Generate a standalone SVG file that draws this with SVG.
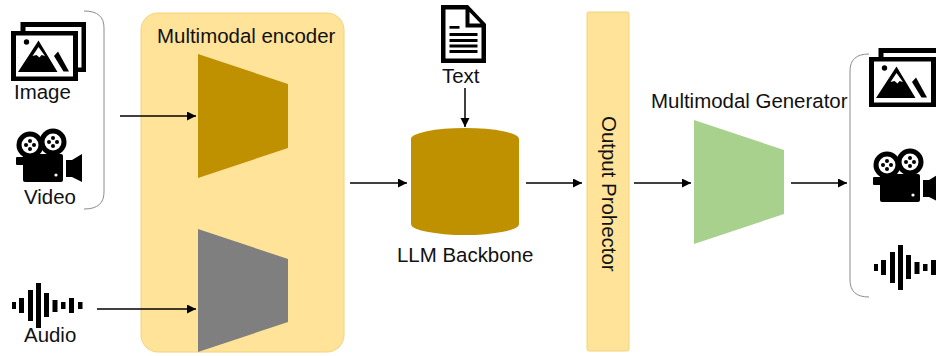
<svg xmlns="http://www.w3.org/2000/svg" xmlns:xlink="http://www.w3.org/1999/xlink" width="936" height="356" viewBox="0 0 936 356">
<style>
text{font-family:"Liberation Sans",Arial,sans-serif;font-size:20.45px;fill:#111}
.c{stroke:#000;stroke-width:1.5;fill:none;marker-end:url(#a)}
.b{stroke:#8c8c8c;stroke-width:1;fill:none}
</style>
<defs>
<marker id="a" markerUnits="userSpaceOnUse" markerWidth="10" markerHeight="10" refX="9" refY="4.500" orient="auto"><path d="M0 0L9 4.500L0 9Z" fill="#000"/></marker>
<g id="imgIcon">
<path fill-rule="evenodd" d="M20.500 22H86V72H77V67.500H81.500V27H25.500V31H20.500Z"/>
<path fill-rule="evenodd" d="M11 31H78V81H11ZM16 35.500V76.500H73V35.500Z"/>
<circle cx="26.500" cy="42" r="2.700"/>
<path fill-rule="evenodd" d="M18 72L38.500 40.500L57.500 72ZM38.500 47L32.500 56L36.500 55L39.500 57.500L41.500 55L45 56Z"/>
<path d="M54 56L58 51.500L69 71.500H63.500Z"/>
</g>
<g id="vidIcon">
<circle cx="30" cy="145" r="13.500"/><circle cx="53" cy="142" r="13.500"/>
<circle cx="30" cy="145" r="8.500" fill="#fff"/><circle cx="53" cy="142" r="8.500" fill="#fff"/>
<circle cx="30" cy="141" r="2"/><circle cx="30" cy="149" r="2"/><circle cx="26" cy="145" r="2"/><circle cx="34" cy="145" r="2"/><circle cx="53" cy="138" r="2"/><circle cx="53" cy="146" r="2"/><circle cx="49" cy="142" r="2"/><circle cx="57" cy="142" r="2"/>
<rect x="23" y="154" width="40" height="28" rx="2"/>
<rect x="16" y="157" width="8" height="8" rx="1"/>
<path d="M66 160H72L82 154V182L72 177H66Z"/>
<circle cx="56" cy="175" r="1.600" fill="#fff"/>
</g>
<g id="audIcon">
<rect x="12" y="302" width="4" height="7"/><rect x="19" y="298" width="5" height="15"/><rect x="28" y="290" width="5" height="31"/><rect x="36" y="283" width="5" height="45"/><rect x="44" y="293" width="5" height="24"/><rect x="52.500" y="300" width="5" height="12"/><rect x="61" y="302" width="4.500" height="7"/><rect x="69" y="298" width="5" height="15"/><rect x="78" y="302" width="4.500" height="7"/>
</g>
</defs>
<g id="encoder"><rect x="141" y="13" width="203" height="339" rx="17" fill="#ffe399" stroke="#f5d27a"/><text x="157" y="43">Multimodal encoder</text></g>
<g id="encoder-top"><path d="M198 54L288 84V148L198 178Z" fill="#bf9000"/></g>
<g id="encoder-bottom"><path d="M198 229L288 259V322L198 352Z" fill="#7f7f7f"/></g>
<g id="inputs">
<path class="b" d="M84 11C98 11 104 17 104 28V192C104 203 98 209 84 209"/>
<use xlink:href="#imgIcon"/><text x="14" y="99">Image</text>
<use xlink:href="#vidIcon"/><text x="24" y="204">Video</text>
<use xlink:href="#audIcon"/><text x="24" y="342">Audio</text>
</g>
<g id="text-doc">
<path fill-rule="evenodd" d="M441 5H468L486 24V63H441ZM445.500 9.500V58.500H481.500V27.500H465.500V9.500ZM469.500 12V23.500H480.500Z"/>
<rect x="449.500" y="26" width="10" height="2.700"/><rect x="449.500" y="33" width="28" height="3"/><rect x="449.500" y="39" width="28" height="3"/><rect x="449.500" y="44.500" width="28" height="3"/><rect x="449.500" y="50" width="28" height="3"/>
<text x="442" y="83">Text</text>
</g>
<g id="backbone">
<path d="M411 139V224A54 11 0 0 0 519 224V139Z" fill="#bf9000"/>
<ellipse cx="465" cy="139" rx="54" ry="11" fill="#bf9000"/>
<text x="397" y="262">LLM Backbone</text>
</g>
<g id="projector"><rect x="587" y="12" width="42" height="339" rx="2" fill="#ffe399" stroke="#f5d27a"/><text transform="translate(602 116) rotate(90)">Output Prohector</text></g>
<g id="generator"><path d="M694 120L784 150V214L694 244Z" fill="#a9d18e"/><text x="651" y="108">Multimodal Generator</text></g>
<g id="outputs">
<path class="b" d="M869 54C856 54 850 60 850 71V280C850 291 856 297 869 297"/>
<use xlink:href="#imgIcon" transform="translate(858 26)"/>
<use xlink:href="#vidIcon" transform="translate(857 20)"/>
<use xlink:href="#audIcon" transform="translate(862 -38)"/>
</g>
<g id="connectors">
<path class="c" d="M120 116H196"/>
<path class="c" d="M97 309H196"/>
<path class="c" d="M350 183H407"/>
<path class="c" d="M465 88V127"/>
<path class="c" d="M526 183H582"/>
<path class="c" d="M634 183H691"/>
<path class="c" d="M791 183H847"/>
</g>
</svg>
